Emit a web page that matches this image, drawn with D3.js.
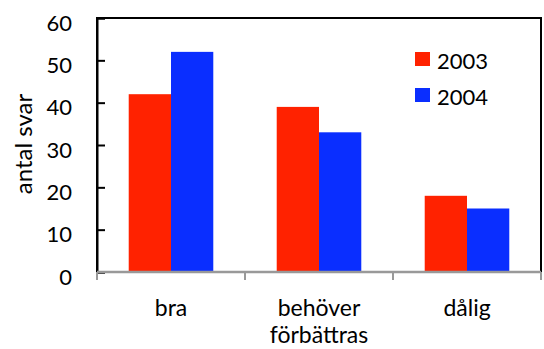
<!DOCTYPE html>
<html lang="sv">
<head>
    <meta charset="utf-8" />
    <title>antal svar</title>
    <script src="https://d3js.org/d3.v7.min.js"></script>
    <style>
        body { margin: 0; background: #fff; }
        text { font-family: Lato, "Open Sans", sans-serif; fill: #000; }
    </style>
</head>
<body>
<script>
    var categories = ["bra", "behöver förbättras", "dålig"];
    var years = ["2003", "2004"];
    var values2003 = [42, 39, 18];
    var values2004 = [52, 33, 15];
    var yTicks = [0, 10, 20, 30, 40, 50, 60];
    var colors = ["#ff2200", "#0a2eff"];

    var w = 544, h = 349;
    var plotLeft = 97, plotRight = 541, plotTop = 18, plotBottom = 272;

    var svg = d3.select("body").append("svg")
        .attr("width", w)
        .attr("height", h);

    var xScale = d3.scaleBand()
        .domain(categories)
        .range([plotLeft, plotRight]);

    var xInner = d3.scaleBand()
        .domain(years)
        .range([0, xScale.bandwidth()])
        .paddingOuter(0.75)
        .paddingInner(0);

    var yScale = d3.scaleLinear()
        .domain([0, 60])
        .range([plotBottom, plotTop]);

    // frame: top, left, right in black
    svg.append("path")
        .attr("d", "M" + plotLeft + "," + plotBottom + "V" + plotTop + "H" + plotRight + "V" + plotBottom)
        .attr("fill", "none")
        .attr("stroke", "#000")
        .attr("stroke-width", 2);

    var rows = categories.map(function(c, i) {
        return { cat: c, vals: [values2003[i], values2004[i]] };
    });

    var groups = svg.selectAll("g.cat")
        .data(rows)
        .enter()
        .append("g")
        .attr("class", "cat")
        .attr("transform", function(d) { return "translate(" + xScale(d.cat) + ",0)"; });

    groups.selectAll("rect")
        .data(function(d) { return d.vals; })
        .enter()
        .append("rect")
        .attr("x", function(d, i) { return xInner(years[i]); })
        .attr("y", function(d) { return yScale(d); })
        .attr("width", xInner.bandwidth())
        .attr("height", function(d) { return plotBottom - yScale(d); })
        .attr("fill", function(d, i) { return colors[i]; });

    // y axis, ticks pointing inward
    var yAxis = d3.axisRight(yScale)
        .tickValues(yTicks)
        .tickSize(8)
        .tickFormat(d3.format("d"));

    var yG = svg.append("g")
        .attr("transform", "translate(" + plotLeft + ",0)")
        .call(yAxis);
    yG.select(".domain").attr("stroke", "#000").attr("stroke-width", 2);
    yG.selectAll(".tick line").attr("stroke", "#000").attr("stroke-width", 2);
    yG.selectAll(".tick text")
        .attr("x", -25)
        .attr("dy", "0.55em")
        .attr("text-anchor", "end")
        .attr("font-size", "22px")
        .attr("font-family", "Lato, sans-serif")
        .attr("fill", "#000");

    // x axis, gray line with ticks at band edges
    svg.append("line")
        .attr("x1", plotLeft).attr("x2", plotRight)
        .attr("y1", plotBottom).attr("y2", plotBottom)
        .attr("stroke", "#999")
        .attr("stroke-width", 2.5);

    var edges = categories.map(function(c) { return xScale(c); }).concat([plotRight]);
    svg.selectAll("line.xtick")
        .data(edges)
        .enter()
        .append("line")
        .attr("class", "xtick")
        .attr("x1", function(d) { return d; })
        .attr("x2", function(d) { return d; })
        .attr("y1", plotBottom)
        .attr("y2", plotBottom + 8)
        .attr("stroke", "#999")
        .attr("stroke-width", 2);

    // category labels (wrapped)
    var labels = svg.selectAll("text.cat")
        .data(categories)
        .enter()
        .append("text")
        .attr("class", "cat")
        .attr("text-anchor", "middle")
        .attr("font-size", "23px")
        .attr("y", 316);

    labels.selectAll("tspan")
        .data(function(d) { return d.split(" ").map(function(s) { return { s: s, c: d }; }); })
        .enter()
        .append("tspan")
        .attr("x", function(d) { return xScale(d.c) + xScale.bandwidth() / 2; })
        .attr("dy", function(d, i) { return i === 0 ? 0 : 27; })
        .text(function(d) { return d.s; });

    // y axis title
    svg.append("text")
        .attr("transform", "translate(32,144) rotate(-90)")
        .attr("text-anchor", "middle")
        .attr("font-size", "24px")
        .text("antal svar");

    // legend
    var legend = svg.selectAll("g.legend")
        .data(years)
        .enter()
        .append("g")
        .attr("class", "legend")
        .attr("transform", function(d, i) { return "translate(415," + (52 + i * 36) + ")"; });

    legend.append("rect")
        .attr("width", 15)
        .attr("height", 14)
        .attr("fill", function(d, i) { return colors[i]; });

    legend.append("text")
        .attr("x", 22)
        .attr("y", 17)
        .attr("font-size", "22px")
        .text(function(d) { return d; });
</script>
</body>
</html>
